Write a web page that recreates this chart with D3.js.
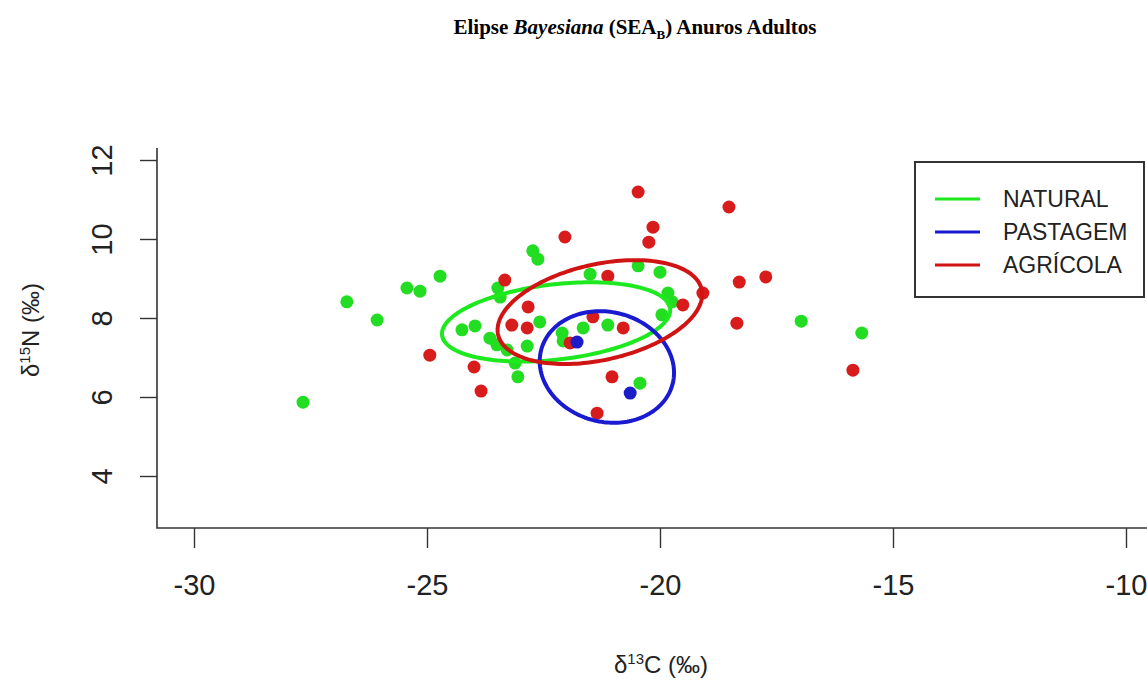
<!DOCTYPE html>
<html>
<head>
<meta charset="utf-8">
<script src="https://cdn.jsdelivr.net/npm/d3@7"></script>
<style>
  body { margin: 0; background: #fff; }
  svg { display: block; }
</style>
</head>
<body>
<div id="chart"></div>
<script>
"use strict";
// values
const naturalX = [-27.66, -26.72, -26.07, -25.43, -25.15, -24.72, -24.25, -23.97, -23.65, -23.48, -23.43, -23.50, -23.28, -23.11, -23.05, -22.73, -22.62, -22.85, -22.58, -22.10, -22.08, -21.65, -21.50, -21.12, -20.47, -20.00, -19.83, -19.74, -19.96, -20.43, -16.97, -15.67];
const naturalY = [5.87, 8.41, 7.95, 8.76, 8.68, 9.06, 7.70, 7.80, 7.49, 8.76, 8.53, 7.32, 7.19, 6.86, 6.51, 9.70, 9.49, 7.29, 7.90, 7.62, 7.42, 7.75, 9.11, 7.82, 9.32, 9.16, 8.63, 8.41, 8.08, 6.35, 7.92, 7.62];
const agricolaX = [-20.47, -18.52, -22.04, -20.15, -20.24, -17.73, -18.30, -18.35, -15.86, -19.08, -19.51, -21.12, -23.33, -22.83, -23.18, -22.85, -21.44, -20.79, -21.93, -21.03, -21.35, -24.94, -23.99, -23.84];
const agricolaY = [11.19, 10.81, 10.05, 10.30, 9.92, 9.04, 8.91, 7.87, 6.68, 8.63, 8.33, 9.06, 8.96, 8.28, 7.82, 7.75, 8.03, 7.75, 7.37, 6.51, 5.59, 7.06, 6.76, 6.15];
const pastagemX = [-21.78, -20.64];
const pastagemY = [7.39, 6.10];

// SEA_B ellipses: NATURAL, PASTAGEM, AGRICOLA
const groups = ["NATURAL", "PASTAGEM", "AGRÍCOLA"];
const ellipseCx = [-22.23, -21.14, -21.29];
const ellipseCy = [7.90, 6.76, 8.15];
const ellipseA = [2.47, 1.50, 2.26];
const ellipseB = [0.95, 1.35, 1.20];
const ellipseAngle = [8.2, -39.5, 16.3];

const xTicks = [-30, -25, -20, -15, -10];
const yTicks = [4, 6, 8, 10, 12];

const colors = ["#22dd22", "#1c1cc8", "#d81c1c"];
const lineColors = ["#1ee81e", "#1a1ad0", "#d01414"];

const width = 1147;
const height = 682;
const axisColor = "#333";
const font = "'Liberation Sans', Arial, sans-serif";

const svg = d3.select("#chart")
    .append("svg")
    .attr("width", width)
    .attr("height", height);

const xScale = d3.scaleLinear().domain([-30, -10]).range([194, 1126]);
const yScale = d3.scaleLinear().domain([4, 12]).range([476, 160]);

// title
const title = svg.append("text")
    .attr("x", 635)
    .attr("y", 34)
    .attr("text-anchor", "middle")
    .style("font-family", "'Liberation Serif', 'Times New Roman', serif")
    .style("font-weight", "bold")
    .style("font-size", "21px");
title.append("tspan").text("Elipse ");
title.append("tspan").style("font-style", "italic").text("Bayesiana");
title.append("tspan").text(" (SEA");
title.append("tspan").attr("dy", 5).style("font-size", "13px").text("B");
title.append("tspan").attr("dy", -5).text(") Anuros Adultos");

// frame (bty = "l")
svg.append("path")
    .attr("d", `M157,148 V528 H${width}`)
    .attr("fill", "none")
    .attr("stroke", axisColor)
    .attr("stroke-width", 1.6);

// x axis
const xAxis = d3.axisBottom(xScale)
    .tickValues(xTicks)
    .tickSize(20)
    .tickPadding(26)
    .tickFormat(d => String(d));
const gx = svg.append("g")
    .attr("transform", "translate(0, 528)")
    .call(xAxis);
gx.select(".domain").remove();
gx.selectAll("line").attr("stroke", axisColor).attr("stroke-width", 1.4);
gx.selectAll("text")
    .attr("fill", "#222")
    .style("font-family", font)
    .style("font-size", "29px");

// y axis
const yAxis = d3.axisLeft(yScale)
    .tickValues(yTicks)
    .tickSize(17)
    .tickFormat(d => String(d));
const gy = svg.append("g")
    .attr("transform", "translate(157, 0)")
    .call(yAxis);
gy.select(".domain").remove();
gy.selectAll("line").attr("stroke", axisColor).attr("stroke-width", 1.4);
gy.selectAll("text")
    .attr("x", 0)
    .attr("dy", 0)
    .attr("transform", "translate(-45, 0) rotate(-90)")
    .attr("text-anchor", "middle")
    .attr("fill", "#222")
    .style("font-family", font)
    .style("font-size", "29px");

// axis titles
const xTitle = svg.append("text")
    .attr("x", 661)
    .attr("y", 673)
    .attr("text-anchor", "middle")
    .attr("fill", "#222")
    .style("font-family", font)
    .style("font-size", "24px");
xTitle.append("tspan").text("δ");
xTitle.append("tspan").attr("dy", -9).style("font-size", "15px").text("13");
xTitle.append("tspan").attr("dy", 9).text("C (‰)");

const yTitle = svg.append("text")
    .attr("transform", "translate(39, 330) rotate(-90)")
    .attr("text-anchor", "middle")
    .attr("fill", "#222")
    .style("font-family", font)
    .style("font-size", "24px");
yTitle.append("tspan").text("δ");
yTitle.append("tspan").attr("dy", -9).style("font-size", "15px").text("15");
yTitle.append("tspan").attr("dy", 9).text("N (‰)");

// points
const series = [
    { x: naturalX, y: naturalY },
    { x: agricolaX, y: agricolaY },
    { x: pastagemX, y: pastagemY }
];
const seriesColor = [colors[0], colors[2], colors[1]];
series.forEach((s, k) => {
    svg.append("g")
        .selectAll("circle")
        .data(s.x.map((v, i) => [v, s.y[i]]))
        .enter()
        .append("circle")
        .attr("cx", d => xScale(d[0]))
        .attr("cy", d => yScale(d[1]))
        .attr("r", 6.5)
        .attr("fill", seriesColor[k]);
});

// ellipses
const line = d3.line()
    .x(d => xScale(d[0]))
    .y(d => yScale(d[1]))
    .curve(d3.curveLinearClosed);
const ellipsePoints = (i) => {
    const th = ellipseAngle[i] * Math.PI / 180;
    return d3.range(0, 2 * Math.PI, Math.PI / 90).map(t => {
        const u = ellipseA[i] * Math.cos(t);
        const v = ellipseB[i] * Math.sin(t);
        return [ellipseCx[i] + u * Math.cos(th) - v * Math.sin(th),
            ellipseCy[i] + u * Math.sin(th) + v * Math.cos(th)];
    });
};
[0, 1, 2].forEach(i => {
    svg.append("path")
        .attr("d", line(ellipsePoints(i)))
        .attr("fill", "none")
        .attr("stroke", lineColors[i])
        .attr("stroke-width", 4);
});

// legend
const legend = svg.append("g").attr("id", "legend");
legend.append("rect")
    .attr("x", 915)
    .attr("y", 162)
    .attr("width", 229)
    .attr("height", 135)
    .attr("fill", "#fff")
    .attr("stroke", axisColor)
    .attr("stroke-width", 2);
const item = legend.selectAll(".item")
    .data(groups)
    .enter()
    .append("g")
    .attr("class", "item")
    .attr("transform", (d, i) => `translate(0, ${199 + i * 33})`);
item.append("line")
    .attr("x1", 935)
    .attr("x2", 980)
    .attr("stroke", (d, i) => lineColors[i])
    .attr("stroke-width", 3);
item.append("text")
    .attr("x", 1003)
    .attr("dy", "0.36em")
    .attr("fill", "#222")
    .style("font-family", font)
    .style("font-size", "23px")
    .text(d => d);
</script>
</body>
</html>
